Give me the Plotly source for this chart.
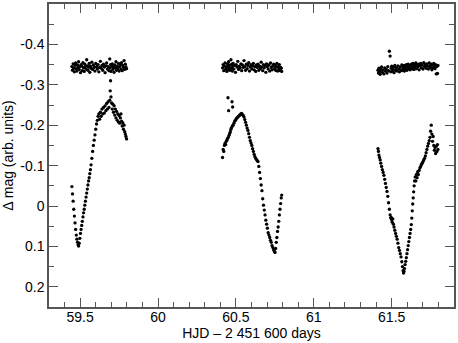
"""Differential light curve over three nights, variable vs. comparison star."""

import plotly.graph_objects as go

# Night 1 -------------------------------------------------------------------
t1 = [
    59.447, 59.451, 59.455, 59.459, 59.463, 59.467, 59.471, 59.475, 59.479, 59.483, 59.487, 59.490,
    59.494, 59.498, 59.502, 59.506, 59.510, 59.514, 59.518, 59.522, 59.526, 59.530, 59.534, 59.538,
    59.542, 59.546, 59.550, 59.554, 59.558, 59.562, 59.566, 59.570, 59.575, 59.580, 59.585, 59.590,
    59.595, 59.600, 59.605, 59.610, 59.615, 59.620, 59.625, 59.630, 59.635, 59.640, 59.645, 59.650,
    59.655, 59.660, 59.665, 59.670, 59.675, 59.680, 59.685, 59.690, 59.693, 59.695, 59.698, 59.702,
    59.706, 59.710, 59.714, 59.718, 59.722, 59.726, 59.730, 59.734, 59.738, 59.742, 59.746, 59.750,
    59.754, 59.758, 59.762, 59.766, 59.770, 59.774, 59.778, 59.782, 59.786, 59.790, 59.794, 59.798,
]
var1 = [
    -0.048, -0.030, -0.012, 0.008, 0.025, 0.042, 0.058, 0.072, 0.082, 0.090, 0.096, 0.099,
    0.092, 0.080, 0.068, 0.058, 0.048, 0.038, 0.027, 0.017, 0.008, -0.002, -0.012, -0.022,
    -0.032, -0.042, -0.052, -0.062, -0.070, -0.080, -0.090, -0.102, -0.118, -0.135, -0.150, -0.163,
    -0.176, -0.190, -0.203, -0.212, -0.222, -0.228, -0.215, -0.232, -0.222, -0.240, -0.228, -0.244,
    -0.230, -0.248, -0.236, -0.254, -0.240, -0.258, -0.244, -0.262, -0.285, -0.310, -0.270, -0.255,
    -0.240, -0.252, -0.232, -0.248, -0.225, -0.240, -0.218, -0.234, -0.212, -0.228, -0.208, -0.224,
    -0.205, -0.218, -0.228, -0.210, -0.198, -0.206, -0.190, -0.200, -0.184, -0.178, -0.172, -0.166,
]
comp1 = [
    -0.345, -0.336, -0.352, -0.341, -0.332, -0.348, -0.354, -0.340, -0.334, -0.349, -0.343, -0.357,
    -0.338, -0.345, -0.330, -0.350, -0.346, -0.335, -0.355, -0.342, -0.333, -0.351, -0.345, -0.339,
    -0.362, -0.347, -0.336, -0.344, -0.353, -0.331, -0.346, -0.341, -0.356, -0.338, -0.349, -0.343,
    -0.334, -0.353, -0.345, -0.339, -0.350, -0.332, -0.343, -0.358, -0.341, -0.348, -0.336, -0.351,
    -0.344, -0.330, -0.347, -0.354, -0.339, -0.345, -0.335, -0.364, -0.342, -0.350, -0.333, -0.347,
    -0.352, -0.338, -0.344, -0.331, -0.349, -0.342, -0.357, -0.336, -0.346, -0.340, -0.353, -0.334,
    -0.345, -0.350, -0.339, -0.355, -0.335, -0.348, -0.343, -0.360, -0.338, -0.351, -0.344, -0.340,
]

# Night 2 -------------------------------------------------------------------
t2 = [
    60.414, 60.418, 60.422, 60.426, 60.430, 60.434, 60.438, 60.442, 60.446, 60.449, 60.451, 60.453,
    60.456, 60.460, 60.464, 60.468, 60.472, 60.475, 60.477, 60.479, 60.482, 60.487, 60.492, 60.497,
    60.502, 60.507, 60.512, 60.517, 60.522, 60.527, 60.532, 60.537, 60.542, 60.547, 60.552, 60.557,
    60.562, 60.567, 60.572, 60.577, 60.582, 60.587, 60.592, 60.597, 60.602, 60.607, 60.612, 60.617,
    60.622, 60.627, 60.632, 60.637, 60.642, 60.647, 60.652, 60.657, 60.662, 60.667, 60.672, 60.677,
    60.682, 60.687, 60.692, 60.697, 60.702, 60.707, 60.712, 60.717, 60.722, 60.727, 60.732, 60.737,
    60.742, 60.747, 60.751, 60.755, 60.759, 60.763, 60.767, 60.771, 60.775, 60.779, 60.783, 60.787,
    60.791, 60.794,
]
var2 = [
    -0.120, -0.140, -0.135, -0.150, -0.155, -0.152, -0.160, -0.163, -0.167, -0.268, -0.170, -0.236,
    -0.175, -0.180, -0.184, -0.190, -0.194, -0.258, -0.198, -0.245, -0.200, -0.205, -0.210, -0.212,
    -0.216, -0.218, -0.220, -0.222, -0.224, -0.226, -0.228, -0.229, -0.226, -0.224, -0.220, -0.214,
    -0.207, -0.200, -0.193, -0.187, -0.179, -0.170, -0.162, -0.156, -0.150, -0.142, -0.135, -0.128,
    -0.122, -0.118, -0.115, -0.112, -0.110, -0.098, -0.083, -0.068, -0.052, -0.038, -0.018, -0.002,
    0.010, 0.022, 0.035, 0.045, 0.055, 0.066, 0.072, 0.078, 0.085, 0.090, 0.098, 0.103,
    0.108, 0.112, 0.115, 0.105, 0.090, 0.078, 0.063, 0.052, 0.038, 0.022, 0.008, -0.006,
    -0.020, -0.027,
]
comp2 = [
    -0.342, -0.350, -0.335, -0.346, -0.354, -0.339, -0.344, -0.333, -0.352, -0.347, -0.338, -0.357,
    -0.343, -0.336, -0.349, -0.362, -0.341, -0.351, -0.334, -0.345, -0.353, -0.339, -0.348, -0.331,
    -0.350, -0.344, -0.358, -0.338, -0.346, -0.342, -0.352, -0.335, -0.349, -0.343, -0.360, -0.345,
    -0.336, -0.351, -0.340, -0.348, -0.355, -0.334, -0.344, -0.350, -0.339, -0.346, -0.353, -0.337,
    -0.345, -0.333, -0.349, -0.343, -0.351, -0.336, -0.346, -0.340, -0.356, -0.344, -0.335, -0.350,
    -0.342, -0.348, -0.331, -0.352, -0.345, -0.339, -0.349, -0.334, -0.354, -0.343, -0.337, -0.347,
    -0.351, -0.340, -0.348, -0.336, -0.344, -0.353, -0.334, -0.345, -0.339, -0.350, -0.335, -0.343,
    -0.341, -0.333,
]

# Night 3 -------------------------------------------------------------------
t3 = [
    61.412, 61.415, 61.418, 61.422, 61.426, 61.430, 61.435, 61.440, 61.445, 61.450, 61.455, 61.460,
    61.465, 61.470, 61.475, 61.480, 61.485, 61.490, 61.494, 61.497, 61.500, 61.503, 61.507, 61.511,
    61.515, 61.520, 61.525, 61.530, 61.535, 61.540, 61.545, 61.550, 61.555, 61.560, 61.565, 61.569,
    61.573, 61.576, 61.579, 61.582, 61.586, 61.590, 61.594, 61.598, 61.602, 61.606, 61.610, 61.614,
    61.618, 61.622, 61.626, 61.629, 61.632, 61.635, 61.638, 61.641, 61.644, 61.647, 61.651, 61.655,
    61.659, 61.663, 61.667, 61.671, 61.676, 61.681, 61.686, 61.691, 61.696, 61.701, 61.706, 61.711,
    61.716, 61.721, 61.726, 61.731, 61.736, 61.741, 61.746, 61.750, 61.754, 61.758, 61.762, 61.766,
    61.770, 61.774, 61.778, 61.782, 61.786, 61.790, 61.794, 61.797,
]
var3 = [
    -0.142, -0.135, -0.126, -0.120, -0.114, -0.106, -0.098, -0.090, -0.083, -0.076, -0.066, -0.056,
    -0.046, -0.036, -0.024, -0.008, 0.008, 0.022, 0.030, 0.028, 0.034, 0.040, 0.032, 0.045,
    0.052, 0.060, 0.068, 0.075, 0.082, 0.092, 0.103, 0.110, 0.118, 0.126, 0.138, 0.150,
    0.160, 0.166, 0.162, 0.155, 0.145, 0.137, 0.128, 0.118, 0.108, 0.098, 0.088, 0.078,
    0.068, 0.058, 0.046, 0.030, 0.012, -0.005, -0.020, -0.035, -0.050, -0.062, -0.072, -0.062,
    -0.078, -0.070, -0.085, -0.078, -0.088, -0.094, -0.098, -0.103, -0.106, -0.110, -0.114, -0.118,
    -0.124, -0.132, -0.140, -0.148, -0.155, -0.162, -0.170, -0.185, -0.200, -0.178, -0.160, -0.172,
    -0.150, -0.138, -0.145, -0.130, -0.148, -0.135, -0.152, -0.140,
]
comp3 = [
    -0.336, -0.329, -0.341, -0.333, -0.326, -0.338, -0.344, -0.331, -0.337, -0.327, -0.342, -0.334,
    -0.339, -0.329, -0.345, -0.335, -0.383, -0.371, -0.332, -0.341, -0.346, -0.333, -0.338, -0.343,
    -0.330, -0.348, -0.336, -0.342, -0.334, -0.347, -0.339, -0.332, -0.344, -0.337, -0.349, -0.335,
    -0.343, -0.339, -0.348, -0.334, -0.345, -0.338, -0.350, -0.336, -0.344, -0.351, -0.340, -0.346,
    -0.337, -0.349, -0.342, -0.352, -0.339, -0.347, -0.353, -0.342, -0.338, -0.350, -0.345, -0.354,
    -0.340, -0.348, -0.344, -0.351, -0.337, -0.347, -0.353, -0.342, -0.349, -0.339, -0.355, -0.345,
    -0.350, -0.341, -0.352, -0.346, -0.339, -0.354, -0.347, -0.343, -0.351, -0.337, -0.349, -0.342,
    -0.353, -0.346, -0.340, -0.350, -0.327, -0.345, -0.328, -0.348,
]

X_TICKS = [59.5, 60, 60.5, 61, 61.5]
X_TICKTEXT = ["59.5", "60", "60.5", "61", "61.5"]
Y_TICKS = [-0.4, -0.3, -0.2, -0.1, 0, 0.1, 0.2]
Y_TICKTEXT = ["-0.4", "-0.3", "-0.2", "-0.1", "0", "0.1", "0.2"]

AXIS_COLOR = "#555555"
FONT = "Liberation Sans, Arial, Helvetica, sans-serif"

nights = [(t1, var1, comp1), (t2, var2, comp2), (t3, var3, comp3)]
for t, v, c in nights:
    assert len(t) == len(v) == len(c), (len(t), len(v), len(c))

fig = go.Figure()
for t, v, c in nights:
    for series in (c, v):
        fig.add_trace(
            go.Scatter(
                x=t,
                y=series,
                mode="markers",
                marker={"size": 3.3, "color": "black", "line": {"width": 0}},
                showlegend=False,
                hoverinfo="skip",
            )
        )

axis_common = {
    "showline": True,
    "linecolor": AXIS_COLOR,
    "linewidth": 1.5,
    "mirror": "ticks",
    "ticks": "inside",
    "tickcolor": AXIS_COLOR,
    "tickwidth": 1,
    "ticklen": 9,
    "showgrid": False,
    "zeroline": False,
    "tickfont": {"size": 14, "color": "black", "family": FONT},
    "tickmode": "array",
}
fig.update_xaxes(
    **axis_common,
    range=[59.3, 61.9],
    tickvals=X_TICKS,
    ticktext=X_TICKTEXT,
    ticklabelstandoff=-4,
    minor={"ticks": "inside", "ticklen": 5, "tick0": 0, "dtick": 0.1, "tickcolor": AXIS_COLOR},
    title={"text": "HJD \u2013 2 451 600 days", "font": {"size": 14, "family": FONT}, "standoff": 2},
)
fig.update_yaxes(
    **axis_common,
    range=[0.25, -0.5],
    tickvals=Y_TICKS,
    ticktext=Y_TICKTEXT,
    minor={"ticks": "inside", "ticklen": 5, "tick0": 0, "dtick": 0.05, "tickcolor": AXIS_COLOR},
    title={"text": "\u0394 mag (arb. units)", "font": {"size": 14, "family": FONT}, "standoff": 8},
)
fig.update_layout(
    width=458,
    height=343,
    margin={"l": 49, "r": 2, "t": 3, "b": 36},
    paper_bgcolor="white",
    plot_bgcolor="white",
    font={"family": FONT, "color": "black"},
)
# the page body has a default 8px margin; drop it so the figure fills the window
fig.write_html(
    "out.html",
    config={"displayModeBar": False},
    post_script="document.body.style.margin='0';document.body.style.overflow='hidden';",
)
